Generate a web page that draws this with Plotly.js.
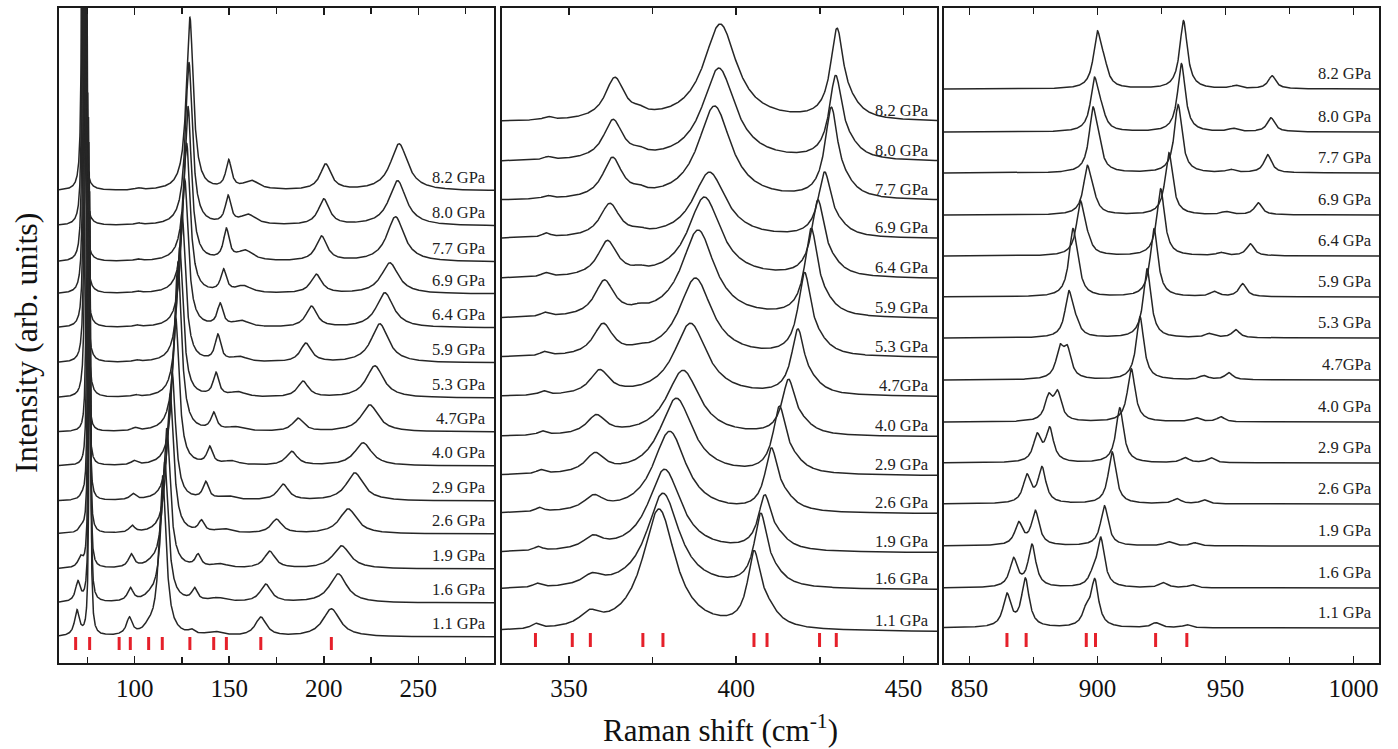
<!DOCTYPE html>
<html>
<head>
<meta charset="utf-8">
<script src="https://cdn.plot.ly/plotly-3.0.1.min.js"></script>
<style>html,body{margin:0;padding:0;background:#fff}#chart{width:1398px;height:749px}</style>
</head>
<body>
<div id="chart"></div>
<script>
// ---------- pressures (bottom to top) ----------
const pressures = ['1.1 GPa','1.6 GPa','1.9 GPa','2.6 GPa','2.9 GPa','4.0 GPa','4.7GPa','5.3 GPa','5.9 GPa','6.4 GPa','6.9 GPa','7.7 GPa','8.0 GPa','8.2 GPa'];

// ---------- panel 1 (60-290 cm-1) : vertical offsets and peaks ----------
const lowOffset = [26, 60, 94, 129, 162, 197, 231, 265, 300, 335, 369, 401, 437, 472];
const low69Pos  = [69.5, 70.0, 71.3, 71.8, 72.3, 72.6, 72.6, 72.6, 72.6, 72.6, 72.6, 72.6, 72.6, 72.6];
const low69Amp  = [25, 20, 10, 5, 3, 0, 0, 0, 0, 0, 0, 0, 0, 0];
const low75Pos  = [76.3, 76.2, 76.0, 75.8, 75.6, 75.2, 74.8, 74.4, 74.0, 73.7, 73.4, 73.0, 72.8, 72.6];
const low75Amp  = [424, 410, 396, 391, 383, 373, 359, 700, 700, 700, 700, 700, 700, 700];
const low98Pos  = [97.2, 97.7, 98.2, 98.6, 99.0, 99.6, 100.0, 100.3, 100.6, 100.9, 101.2, 101.5, 101.7, 101.8];
const low98Amp  = [17, 13, 13, 7, 6, 4, 3, 2, 2, 2, 2, 2, 2, 2];
const low107Pos = [107.4, 108.0, 108.6, 109.5, 110.5, 112.0, 113.0, 114.0, 115.0, 116.0, 117.0, 118.0, 119.0, 119.5];
const low107Amp = [5, 3, 2, 0, 0, 0, 0, 0, 0, 0, 0, 0, 0, 0];
const low120Pos = [114.8, 115.9, 117.0, 118.8, 119.8, 121.7, 122.9, 123.8, 125.0, 126.5, 127.5, 128.2, 128.7, 129.2];
const low120Amp = [160, 140, 140, 140, 128, 148, 170, 150, 150, 148, 150, 155, 163, 173];
const low140Pos = [130.0, 131.7, 133.5, 135.3, 137.6, 139.7, 141.8, 143.0, 144.0, 145.2, 147.0, 148.5, 149.4, 149.7];
const low140Amp = [4, 12, 12, 11, 17, 17, 17, 23, 26, 22, 22, 30, 27, 28];
const low155Pos = [142, 144, 145, 147, 149, 151, 153, 154.5, 155.5, 156.5, 157.5, 158.5, 160, 161.7];
const low155Amp = [4, 4, 4, 4, 4, 4, 4, 5, 5, 6, 7, 10, 10, 9];
const low170Pos = [166.7, 169.3, 171.4, 175.0, 178.5, 183.0, 186.4, 189.0, 190.5, 193.5, 196.0, 198.8, 200.0, 201.0];
const low170Amp = [19, 18, 17, 14, 16, 14, 13, 16, 19, 21, 19, 25, 26, 26];
const low210Pos = [204.0, 207.6, 209.4, 212.9, 216.4, 220.8, 224.3, 227.0, 229.6, 232.3, 234.9, 237.9, 239.0, 239.8];
const low210Amp = [28, 29, 23, 25, 28, 23, 27, 32, 39, 35, 31, 45, 45, 47];
const lowHalfWidth = [1.5, 0.45, 1.8, 3.0, 2.2, 1.8, 5.0, 3.5, 5.5];
const lowRefLines = [68.8, 76.2, 91.8, 97.7, 107.4, 114.6, 129.2, 141.8, 148.5, 166.7, 204.0];

// ---------- panel 2 (330-460 cm-1) ----------
const midOffset = [31, 73, 110, 149, 187, 226, 266, 305, 344, 384, 424, 462, 501, 541];
const mid340Pos = [340.0, 340.5, 340.8, 341.2, 341.5, 342.0, 342.3, 342.6, 342.8, 343.0, 343.2, 343.5, 343.6, 343.7];
const mid340Amp = [5, 4, 4, 4, 4, 4, 4, 4, 4, 4, 4, 3, 3, 3];
const mid360Pos = [356.2, 356.9, 357.2, 357.4, 357.8, 358.2, 359.2, 360.2, 360.6, 361.5, 362.2, 363.0, 363.2, 363.7];
const mid360Amp = [13, 10, 12, 14, 19, 19, 24, 31, 35, 35, 33, 40, 39, 41];
const mid372Pos = [372, 372, 372, 372, 372, 372, 372, 371, 371, 371, 371, 371, 371, 371];
const mid372Amp = [0, 0, 0, 0, 0, 0, 0, 3, 3, 3, 3, 4, 4, 4];
const mid380Pos = [376.9, 378.1, 378.6, 380.1, 382.1, 384.1, 386.3, 387.8, 388.6, 390.5, 392.0, 393.5, 394.8, 395.2];
const mid380Amp = [122, 96, 83, 82, 77, 66, 73, 79, 88, 81, 66, 94, 93, 97];
const mid410Pos = [405.3, 407.3, 408.5, 410.5, 412.9, 415.6, 418.4, 420.4, 422.4, 424.4, 426.4, 428.4, 429.7, 430.1];
const mid410Amp = [68, 68, 50, 58, 62, 51, 61, 78, 83, 72, 61, 86, 79, 86];
const mid414Pos = [409.2, 411.3, 412.5, 414.5, 416.9, 419.6, 422.4, 424.4, 426.4, 428.4, 430.4, 432.4, 433.7, 434.1];
const mid414Amp = [16, 10, 10, 10, 10, 9, 9, 10, 10, 9, 8, 10, 10, 10];
const midHalfWidth = [1.5, 3.5, 2.0, 6.0, 2.3, 4.0];
const midRefLines = [340.0, 351.0, 356.4, 372.1, 378.1, 405.3, 409.2, 424.9, 429.9];

// ---------- panel 3 (840-1010 cm-1) ----------
const highOffset = [35, 75, 117, 159, 200, 241, 283, 325, 366, 407, 448, 490, 531, 574];
const highL1Pos = [864.6, 867.2, 869.2, 872.4, 876.4, 880.9, 885.3, 888.8, 890.3, 893.3, 896.0, 898.2, 898.8, 899.9];
const highL1Amp = [32, 28, 22, 27, 26, 23, 28, 44, 60, 52, 46, 60, 50, 52];
const highL2Pos = [871.8, 874.4, 875.7, 878.3, 881.3, 884.4, 888.2, 891.5, 892.0, 896.0, 898.5, 900.5, 901.5, 902.5];
const highL2Amp = [48, 42, 34, 35, 33, 27, 27, 10, 15, 10, 10, 15, 15, 18];
const highM0Pos = [895.6, 898.0, 899.8, 902.7, 905.7, 910.2, 913.6, 916.4, 919.1, 921.7, 924.9, 928.5, 929.8, 930.6];
const highM0Amp = [14, 8, 0, 0, 0, 0, 0, 0, 0, 0, 0, 0, 0, 0];
const highMPos  = [898.9, 901.2, 902.7, 905.7, 908.7, 913.2, 916.6, 919.4, 922.1, 924.7, 927.9, 931.5, 932.8, 933.6];
const highMAmp  = [46, 49, 40, 52, 55, 53, 63, 69, 68, 67, 62, 68, 68, 68];
const highNPos  = [922.7, 925.7, 927.7, 931.0, 934.2, 938.4, 941.5, 943.6, 945.6, 948.2, 950.1, 952.0, 953.0, 954.0];
const highNAmp  = [5, 5, 4, 5, 5, 4, 4, 4, 5, 3, 3, 3, 3, 3];
const highOPos  = [934.9, 937.0, 938.0, 941.6, 944.3, 948.2, 951.3, 954.0, 956.7, 959.7, 962.8, 966.5, 967.8, 968.2];
const highOAmp  = [3, 3, 3, 4, 5, 5, 7, 8, 13, 12, 12, 18, 14, 13];
const highHalfWidth = [1.8, 1.8, 1.8, 1.8, 2.0, 1.8];
const highRefLines = [864.6, 872.1, 895.6, 899.2, 922.7, 934.9];

// ---------- build ----------
const FONT = 'Liberation Serif';
function grid(a, b, step) { const g = []; for (let v = a; v <= b + 1e-9; v += step) g.push(+v.toFixed(3)); return g; }
function spectrum(xs, i, offset, pos, amp, hw) {
  return xs.map(x => {
    let s = offset[i];
    for (let k = 0; k < pos.length; k++) {
      const d = x - pos[k][i], g = hw[k];
      s += amp[k][i] * g * g / (d * d + g * g);
    }
    return s;
  });
}
const panels = [
  {xa: 'x', ya: 'y', xs: grid(60, 290, 0.05), off: lowOffset,
   pos: [low69Pos, low75Pos, low98Pos, low107Pos, low120Pos, low140Pos, low155Pos, low170Pos, low210Pos],
   amp: [low69Amp, low75Amp, low98Amp, low107Amp, low120Amp, low140Amp, low155Amp, low170Amp, low210Amp],
   hw: lowHalfWidth, refs: lowRefLines, refLo: 13, refHi: 26, labelX: 488 / 1398, labelDy: 14},
  {xa: 'x2', ya: 'y2', xs: grid(330, 460, 0.1), off: midOffset,
   pos: [mid340Pos, mid360Pos, mid372Pos, mid380Pos, mid410Pos, mid414Pos],
   amp: [mid340Amp, mid360Amp, mid372Amp, mid380Amp, mid410Amp, mid414Amp],
   hw: midHalfWidth, refs: midRefLines, refLo: 16, refHi: 30, labelX: 931 / 1398, labelDy: 12},
  {xa: 'x3', ya: 'y3', xs: grid(840, 1010, 0.1), off: highOffset,
   pos: [highL1Pos, highL2Pos, highM0Pos, highMPos, highNPos, highOPos],
   amp: [highL1Amp, highL2Amp, highM0Amp, highMAmp, highNAmp, highOAmp],
   hw: highHalfWidth, refs: highRefLines, refLo: 16, refHi: 30, labelX: 1374 / 1398, labelDy: 16}
];

const traces = [];
const annotations = [];
panels.forEach(p => {
  pressures.forEach((lab, i) => {
    traces.push({x: p.xs, y: spectrum(p.xs, i, p.off, p.pos, p.amp, p.hw), xaxis: p.xa, yaxis: p.ya,
      mode: 'lines', line: {color: '#262626', width: 1.5}, hoverinfo: 'skip', showlegend: false});
    annotations.push({xref: 'paper', yref: p.ya, x: p.labelX, y: p.off[i] + p.labelDy, text: lab,
      showarrow: false, xanchor: 'right', yanchor: 'middle',
      font: {family: FONT, size: 16.5, color: '#222'}});
  });
  const rx = [], ry = [];
  p.refs.forEach(v => { rx.push(v, v, null); ry.push(p.refLo, p.refHi, null); });
  traces.push({x: rx, y: ry, xaxis: p.xa, yaxis: p.ya, mode: 'lines',
    line: {color: '#e5202a', width: 3}, hoverinfo: 'skip', showlegend: false});
});

annotations.push({xref: 'paper', yref: 'paper', x: 720 / 1398, y: 1 - 728 / 749, text: 'Raman shift (cm<sup>-1</sup>)',
  showarrow: false, xanchor: 'center', yanchor: 'middle', font: {family: FONT, size: 31, color: '#111'}});
annotations.push({xref: 'paper', yref: 'paper', x: 26 / 1398, y: 1 - 343 / 749, text: 'Intensity (arb. units)', textangle: -90,
  showarrow: false, xanchor: 'center', yanchor: 'middle', font: {family: FONT, size: 32, color: '#111'}});

const lineCol = '#1a1a1a';
function xAxis(domain, range, anchor) {
  return {domain, range, anchor, showline: true, linecolor: lineCol, linewidth: 1.8, mirror: 'ticks',
    ticks: 'inside', ticklen: 7, tickwidth: 1.5, tickcolor: lineCol, tick0: 0, dtick: 50,
    showgrid: false, zeroline: false, fixedrange: true, ticklabelstandoff: 2,
    tickfont: {family: FONT, size: 25, color: '#111'},
    minor: {dtick: 25, tick0: 0, ticks: 'inside', ticklen: 6, tickwidth: 1.5, tickcolor: lineCol, showgrid: false}};
}
function yAxis(anchor) {
  return {domain: [1 - 663 / 749, 1 - 8 / 749], range: [0, 655], anchor, showline: true, linecolor: lineCol,
    linewidth: 1.8, mirror: true, ticks: '', showticklabels: false, showgrid: false, zeroline: false, fixedrange: true};
}
const layout = {
  width: 1398, height: 749, margin: {l: 0, r: 0, t: 0, b: 0}, paper_bgcolor: '#fff', plot_bgcolor: '#fff',
  showlegend: false, font: {family: FONT},
  xaxis: xAxis([59 / 1398, 494 / 1398], [60, 290], 'y'),
  xaxis2: xAxis([502 / 1398, 937 / 1398], [330, 460], 'y2'),
  xaxis3: xAxis([944 / 1398, 1379 / 1398], [840, 1010], 'y3'),
  yaxis: yAxis('x'), yaxis2: yAxis('x2'), yaxis3: yAxis('x3'),
  annotations
};
Plotly.newPlot('chart', traces, layout, {staticPlot: true, displayModeBar: false});
</script>
</body>
</html>
